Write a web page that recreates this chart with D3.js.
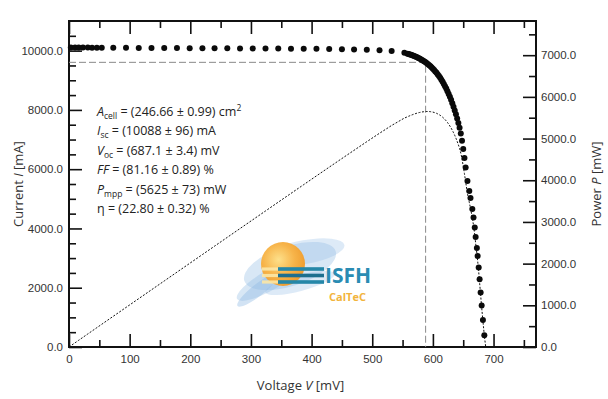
<!DOCTYPE html>
<html>
<head>
<meta charset="utf-8">
<script src="https://cdn.jsdelivr.net/npm/d3@7"></script>
<style>
  body { margin: 0; background: #fff; }
  svg { display: block; font-family: "Open Sans", "DejaVu Sans", sans-serif; }
</style>
</head>
<body>
<div id="chart"></div>
<script>
// I-V curve: voltage [mV], current [mA]
const voltage = [3, 10, 16, 23, 31, 38, 46, 54, 73, 94, 115, 136, 157, 178, 199, 220, 240, 261, 282, 303,
    324, 345, 366, 387, 408, 429, 450, 470, 491, 512, 532, 553,
    558, 560, 562, 564, 566, 568, 570, 572, 574, 576, 578, 580, 582, 584, 586, 588, 590, 592, 594, 596,
    598, 600, 602, 604, 606, 608, 610, 612, 614, 616, 618, 620, 622, 624, 626, 628, 630, 632, 634, 636,
    638, 640, 642, 644,
    646, 648, 650, 652, 654, 657, 660, 662, 665, 667, 669, 670.5, 672.5, 673.8, 675.5, 677, 678.7, 680.4, 682.5, 684.8];
const current = [10105, 10105, 10103, 10102, 10102, 10100, 10100, 10098, 10096, 10094, 10092, 10090, 10088, 10086, 10084, 10082, 10080, 10078, 10076, 10074,
    10072, 10070, 10067, 10064, 10060, 10055, 10048, 10040, 10030, 10015, 9990, 9930,
    9896, 9884, 9871, 9857, 9842, 9827, 9810, 9793, 9774, 9754, 9733, 9710, 9686, 9661, 9634, 9605, 9575, 9542, 9508, 9471,
    9432, 9391, 9346, 9299, 9250, 9196, 9140, 9081, 9017, 8949, 8877, 8800, 8719, 8632, 8540, 8442, 8339, 8227, 8109, 7984,
    7850, 7709, 7558, 7398,
    7200, 6960, 6680, 6380, 6060, 5600, 5260, 5030, 4660, 4370, 4030, 3710, 3340, 3070, 2680, 2290, 1840, 1400, 910, 400];

const vOc = 687.1;      // mV
const vMpp = 588;       // mV
const iMpp = 9605;      // mA

const xTicks = [0, 100, 200, 300, 400, 500, 600, 700];
const iTicks = [0, 2000, 4000, 6000, 8000, 10000];
const pTicks = [0, 1000, 2000, 3000, 4000, 5000, 6000, 7000];

const results = [
    { sym: 'A', sub: 'cell', text: ' = (246.66 \u00b1 0.99) cm', sup: '2' },
    { sym: 'I', sub: 'sc', text: ' = (10088 \u00b1 96) mA' },
    { sym: 'V', sub: 'oc', text: ' = (687.1 \u00b1 3.4) mV' },
    { sym: 'FF', sub: '', text: ' = (81.16 \u00b1 0.89) %' },
    { sym: 'P', sub: 'mpp', text: ' = (5625 \u00b1 73) mW' },
    { sym: '', sub: '', text: '\u03b7 = (22.80 \u00b1 0.32) %' }
];

const width = 608, height = 399;
const plotL = 69, plotR = 536, plotT = 21, plotB = 347;

const x = d3.scaleLinear().domain([0, 770]).range([plotL, plotR]);
const y = d3.scaleLinear().domain([0, 11000]).range([plotB, plotT]);
const yP = d3.scaleLinear().domain([0, 7820]).range([plotB, plotT]);

const svg = d3.select('#chart').append('svg')
    .attr('width', width)
    .attr('height', height);

const data = voltage.map((v, i) => ({ v: v, i: current[i] }));

// --- logo (ISFH CalTeC) behind the data
const logo = svg.append('g').attr('class', 'logo');
const defs = svg.append('defs');
const sun = defs.append('radialGradient').attr('id', 'sun').attr('cx', '40%').attr('cy', '40%').attr('r', '65%');
sun.append('stop').attr('offset', '0%').attr('stop-color', '#fde08a');
sun.append('stop').attr('offset', '55%').attr('stop-color', '#f7b44a');
sun.append('stop').attr('offset', '100%').attr('stop-color', '#ee9a2c');

const brush = [
    { cx: 290, cy: 266, rx: 48, ry: 20, rot: -18, op: 0.35 },
    { cx: 270, cy: 280, rx: 38, ry: 10, rot: -30, op: 0.35 },
    { cx: 305, cy: 252, rx: 40, ry: 12, rot: -10, op: 0.3 },
    { cx: 258, cy: 290, rx: 26, ry: 6, rot: -38, op: 0.4 },
    { cx: 300, cy: 283, rx: 36, ry: 8, rot: -15, op: 0.3 }
];
logo.selectAll('ellipse.brush')
    .data(brush)
    .join('ellipse')
    .attr('class', 'brush')
    .attr('cx', d => d.cx).attr('cy', d => d.cy)
    .attr('rx', d => d.rx).attr('ry', d => d.ry)
    .attr('transform', d => `rotate(${d.rot},${d.cx},${d.cy})`)
    .attr('fill', '#8fb9e3')
    .attr('opacity', d => d.op);

logo.append('circle')
    .attr('cx', 283).attr('cy', 264).attr('r', 22)
    .attr('fill', 'url(#sun)');

[269, 275.5, 282].forEach((by, k) => {
    logo.append('rect').attr('x', 262).attr('y', by - 1.6).attr('width', 16).attr('height', 3.2)
        .attr('fill', '#fbe7a6').attr('opacity', 0.9);
    logo.append('rect').attr('x', 278).attr('y', by - 1.8).attr('width', 46).attr('height', 3.6)
        .attr('fill', k === 1 ? '#1d6f8f' : '#2587a8');
});
logo.append('text')
    .attr('x', 325).attr('y', 283)
    .style('font-family', '"Open Sans", sans-serif')
    .style('font-weight', '700')
    .style('font-size', '21px')
    .style('fill', '#2a8cb3')
    .text('ISFH');
logo.append('text')
    .attr('x', 329).attr('y', 301)
    .style('font-family', '"Open Sans", sans-serif')
    .style('font-weight', '700')
    .style('font-size', '11px')
    .style('fill', '#f2b43c')
    .text('CalTeC');

// --- axes (ticks point inside the frame)
const tickFmt = d3.format('.1f');
const minorX = d3.range(50, 770, 100);
const minorI = d3.range(500, 11000, 1000).concat(d3.range(1000, 11000, 2000));
const minorP = d3.range(500, 7820, 1000);

function styleAxis(g) {
    g.select('.domain').remove();
    g.selectAll('line').attr('stroke', '#111').attr('stroke-width', 1.6);
    g.selectAll('text').style('font-size', '11.5px').style('fill', '#333');
}

svg.append('g').attr('transform', `translate(0,${plotB})`)
    .call(d3.axisBottom(x).tickValues(xTicks).tickSize(-13).tickPadding(8).tickFormat(d3.format('d')))
    .call(styleAxis);
svg.append('g').attr('transform', `translate(0,${plotB})`)
    .call(d3.axisBottom(x).tickValues(minorX).tickSize(-7).tickFormat(''))
    .call(styleAxis);
svg.append('g').attr('transform', `translate(0,${plotT})`)
    .call(d3.axisTop(x).tickValues(xTicks).tickSize(-13).tickFormat(''))
    .call(styleAxis);
svg.append('g').attr('transform', `translate(0,${plotT})`)
    .call(d3.axisTop(x).tickValues(minorX).tickSize(-7).tickFormat(''))
    .call(styleAxis);

svg.append('g').attr('transform', `translate(${plotL},0)`)
    .call(d3.axisLeft(y).tickValues(iTicks).tickSize(-13).tickPadding(6).tickFormat(tickFmt))
    .call(styleAxis);
svg.append('g').attr('transform', `translate(${plotL},0)`)
    .call(d3.axisLeft(y).tickValues(minorI).tickSize(-7).tickFormat(''))
    .call(styleAxis);

svg.append('g').attr('transform', `translate(${plotR},0)`)
    .call(d3.axisRight(yP).tickValues(pTicks).tickSize(-13).tickPadding(5).tickFormat(tickFmt))
    .call(styleAxis);
svg.append('g').attr('transform', `translate(${plotR},0)`)
    .call(d3.axisRight(yP).tickValues(minorP).tickSize(-7).tickFormat(''))
    .call(styleAxis);

// frame
svg.append('rect')
    .attr('x', plotL).attr('y', plotT)
    .attr('width', plotR - plotL).attr('height', plotB - plotT)
    .attr('fill', 'none')
    .attr('stroke', '#111')
    .attr('stroke-width', 2);

// axis titles
svg.append('text')
    .attr('x', (plotL + plotR) / 2 - 2).attr('y', 390)
    .attr('text-anchor', 'middle')
    .style('font-size', '13px').style('fill', '#333')
    .call(t => {
        t.append('tspan').text('Voltage ');
        t.append('tspan').style('font-style', 'italic').text('V');
        t.append('tspan').text(' [mV]');
    });

svg.append('text')
    .attr('transform', `translate(23,${(plotT + plotB) / 2}) rotate(-90)`)
    .attr('text-anchor', 'middle')
    .style('font-size', '13px').style('fill', '#333')
    .call(t => {
        t.append('tspan').text('Current ');
        t.append('tspan').style('font-style', 'italic').text('I');
        t.append('tspan').text(' [mA]');
    });

svg.append('text')
    .attr('transform', `translate(601,${(plotT + plotB) / 2}) rotate(-90)`)
    .attr('text-anchor', 'middle')
    .style('font-size', '13px').style('fill', '#333')
    .call(t => {
        t.append('tspan').text('Power ');
        t.append('tspan').style('font-style', 'italic').text('P');
        t.append('tspan').text(' [mW]');
    });

// MPP guide lines
svg.append('path')
    .attr('d', `M${x(0)},${y(iMpp)}H${x(vMpp)}V${y(0)}`)
    .attr('fill', 'none')
    .attr('stroke', '#8a8a8a')
    .attr('stroke-width', 1)
    .attr('stroke-dasharray', '7,3');

// power curve P = V * I
const power = [{ v: 0, p: 0 }].concat(data.map(d => ({ v: d.v, p: d.v * d.i / 1000 })), [{ v: vOc, p: 0 }]);
svg.append('path')
    .datum(power)
    .attr('d', d3.line().x(d => x(d.v)).y(d => yP(d.p)))
    .attr('fill', 'none')
    .attr('stroke', '#111')
    .attr('stroke-width', 1)
    .attr('stroke-dasharray', '2,1.6');

// I-V dots
svg.append('g')
    .selectAll('circle')
    .data(data)
    .join('circle')
    .attr('cx', d => x(d.v))
    .attr('cy', d => y(d.i))
    .attr('r', 3)
    .attr('fill', '#0a0a0a');

// results block
const block = svg.append('g').style('font-size', '12.5px').style('fill', '#222');
results.forEach((r, k) => {
    const t = block.append('text').attr('x', 97).attr('y', 115.5 + k * 19.5);
    if (r.sym) t.append('tspan').style('font-style', 'italic').text(r.sym);
    if (r.sub) {
        t.append('tspan').attr('dy', 3).style('font-size', '8.5px').text(r.sub);
        t.append('tspan').attr('dy', -3).text(r.text);
    } else {
        t.append('tspan').text(r.text);
    }
    if (r.sup) t.append('tspan').attr('dy', -5).style('font-size', '8.5px').text(r.sup);
});
</script>
</body>
</html>
